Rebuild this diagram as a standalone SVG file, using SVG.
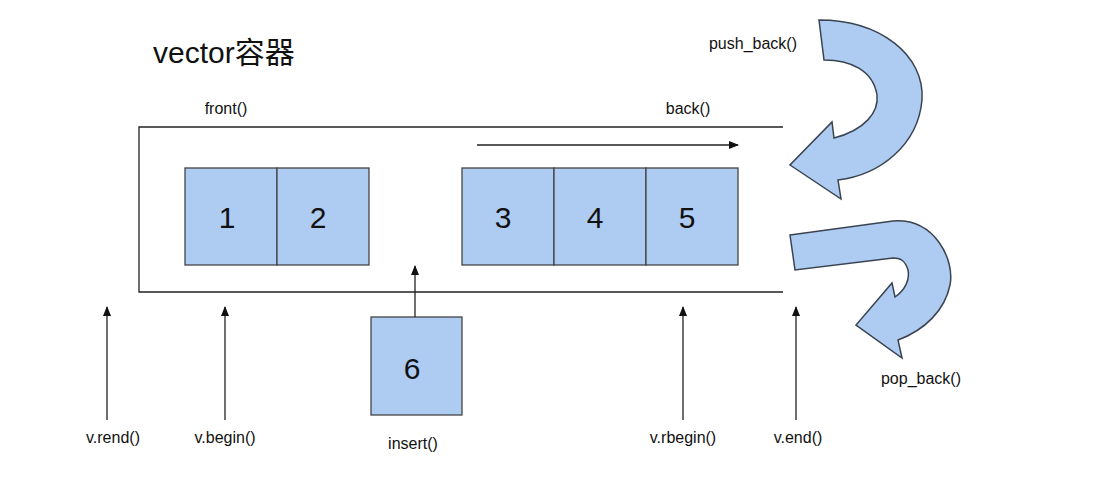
<svg xmlns="http://www.w3.org/2000/svg" width="1109" height="496" viewBox="0 0 1109 496">
<style>
text{font-family:"Liberation Sans",Arial,sans-serif;fill:#111}
.lbl{font-size:16px;text-anchor:middle}
.num{font-size:30px;text-anchor:middle}
.box{fill:#aecbf2;stroke:#444;stroke-width:1.3}
.ln{stroke:#222;stroke-width:1.3;fill:none}
.big{fill:#aecbf2;stroke:#3a4450;stroke-width:1.5}
</style>
<defs><marker id="ah" markerWidth="10" markerHeight="8" refX="9" refY="4" orient="auto" markerUnits="userSpaceOnUse"><path d="M0,0 L10,4 L0,8 Z" fill="#111"/></marker></defs>
<rect width="1109" height="496" fill="#fff"/>
<text x="153" y="63" style="font-size:30px;font-family:'Liberation Sans','Noto Sans CJK SC',sans-serif">vector容器</text>
<g id="container"><path class="ln" d="M783,127 H139 V292 H783"/></g>
<g id="n1"><rect class="box" x="185" y="168" width="92" height="97"/><text class="num" x="227" y="228">1</text></g>
<g id="n2"><rect class="box" x="277" y="168" width="92" height="97"/><text class="num" x="318" y="228">2</text></g>
<g id="n3"><rect class="box" x="462" y="168" width="92" height="97"/><text class="num" x="503" y="228">3</text></g>
<g id="n4"><rect class="box" x="554" y="168" width="92" height="97"/><text class="num" x="595" y="228">4</text></g>
<g id="n5"><rect class="box" x="646" y="168" width="92" height="97"/><text class="num" x="687" y="228">5</text></g>
<g id="n6"><rect class="box" x="371" y="317" width="91" height="98"/><text class="num" x="412" y="379">6</text></g>
<g id="push"><path class="big" d="M819,20 C880,20 925,55 922,100 C918,145 880,175 838,180 L841,199 L790,165 L832,122 L834,138 C865,130 879,112 877,95 C873,70 850,60 824,60 Z"/></g>
<g id="pop"><path class="big" d="M790,235 L893,221 C935,218 955,260 950,285 C945,310 925,330 898,340 L902,358 L856,325 L892,283 L895,297 C905,290 910,280 908,270 C905,260 900,258 893,258 L795,270 Z"/></g>
<g id="connectors">
<line class="ln" x1="477" y1="145" x2="738" y2="145" marker-end="url(#ah)"/>
<line class="ln" x1="415" y1="317" x2="415" y2="266" marker-end="url(#ah)"/>
<line class="ln" x1="107" y1="420" x2="107" y2="307" marker-end="url(#ah)"/>
<line class="ln" x1="225" y1="420" x2="225" y2="307" marker-end="url(#ah)"/>
<line class="ln" x1="683" y1="420" x2="683" y2="307" marker-end="url(#ah)"/>
<line class="ln" x1="796" y1="420" x2="796" y2="307" marker-end="url(#ah)"/>
</g>
<text class="lbl" x="226" y="114">front()</text>
<text class="lbl" x="688" y="114">back()</text>
<text class="lbl" x="753" y="49">push_back()</text>
<text class="lbl" x="921" y="384">pop_back()</text>
<text class="lbl" x="113" y="443">v.rend()</text>
<text class="lbl" x="225" y="443">v.begin()</text>
<text class="lbl" x="413" y="449">insert()</text>
<text class="lbl" x="683" y="443">v.rbegin()</text>
<text class="lbl" x="798" y="443">v.end()</text>
</svg>
